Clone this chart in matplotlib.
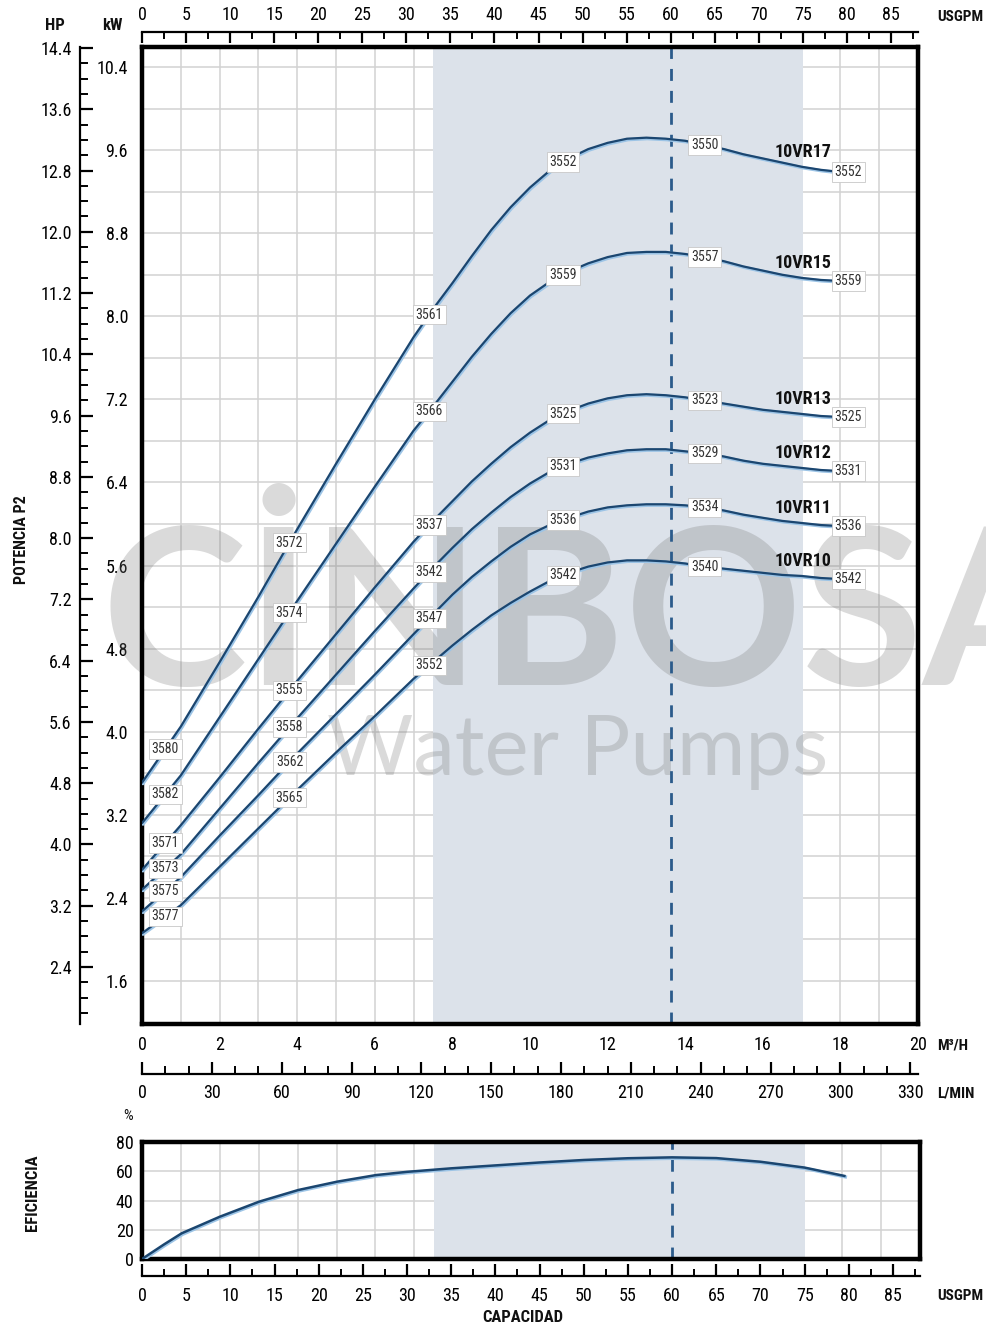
import numpy as np
import matplotlib
matplotlib.use('Agg')
import matplotlib.pyplot as plt
from matplotlib import font_manager
from matplotlib.ticker import MultipleLocator, FixedLocator, NullFormatter, FormatStrFormatter
import matplotlib.patheffects as pe

# pick the narrowest available sans family
_names = {f.name for f in font_manager.fontManager.ttflist}
FONT = 'DejaVu Sans'
for cand in ['Liberation Sans Narrow', 'Roboto Condensed', 'DejaVu Sans Condensed',
             'Open Sans Condensed', 'Liberation Sans', 'Roboto']:
    if cand in _names:
        FONT = cand
        break
CONDENSED = FONT in ('Liberation Sans Narrow', 'Roboto Condensed', 'DejaVu Sans Condensed', 'Open Sans Condensed')
plt.rcParams['font.family'] = [FONT, 'DejaVu Sans']
SC = 1.0 if CONDENSED else 0.88

# ---------------- data ----------------
flow_m3h = [0, 1, 2, 3, 4, 5, 6, 7, 7.5, 8, 8.5, 9, 9.5, 10, 10.5, 11, 11.5, 12, 12.5, 13,
            13.5, 14, 14.5, 15, 15.5, 16, 16.5, 17, 17.5, 18]
p_10vr17 = [3.51, 4.05, 4.67, 5.30, 5.95, 6.58, 7.20, 7.80, 8.07, 8.32, 8.58, 8.83, 9.05, 9.24, 9.40, 9.52,
            9.61, 9.67, 9.71, 9.72, 9.71, 9.69, 9.65, 9.61, 9.56, 9.52, 9.48, 9.44, 9.41, 9.39]
p_10vr15 = [3.12, 3.58, 4.14, 4.70, 5.26, 5.81, 6.36, 6.90, 7.13, 7.37, 7.61, 7.83, 8.03, 8.20, 8.33, 8.43,
            8.51, 8.57, 8.61, 8.62, 8.62, 8.60, 8.57, 8.53, 8.48, 8.44, 8.40, 8.37, 8.35, 8.34]
p_10vr13 = [2.67, 3.10, 3.56, 4.03, 4.49, 4.94, 5.39, 5.83, 6.03, 6.22, 6.41, 6.58, 6.74, 6.88, 7.00, 7.09,
            7.16, 7.21, 7.24, 7.25, 7.24, 7.22, 7.19, 7.16, 7.13, 7.10, 7.08, 7.06, 7.04, 7.03]
p_10vr12 = [2.48, 2.82, 3.26, 3.70, 4.13, 4.55, 4.97, 5.38, 5.58, 5.77, 5.95, 6.11, 6.26, 6.39, 6.50, 6.58,
            6.64, 6.68, 6.71, 6.72, 6.72, 6.70, 6.68, 6.65, 6.61, 6.58, 6.56, 6.54, 6.52, 6.51]
p_10vr11 = [2.27, 2.60, 3.00, 3.39, 3.79, 4.17, 4.55, 4.94, 5.13, 5.32, 5.49, 5.64, 5.78, 5.90, 5.99, 6.06,
            6.12, 6.16, 6.18, 6.19, 6.19, 6.18, 6.16, 6.13, 6.09, 6.06, 6.03, 6.01, 5.99, 5.98]
p_10vr10 = [2.06, 2.33, 2.70, 3.07, 3.44, 3.80, 4.15, 4.51, 4.67, 4.83, 4.98, 5.12, 5.24, 5.35, 5.45, 5.53,
            5.59, 5.63, 5.65, 5.65, 5.64, 5.62, 5.59, 5.57, 5.55, 5.53, 5.51, 5.50, 5.48, 5.47]

models = ['10VR17', '10VR15', '10VR13', '10VR12', '10VR11', '10VR10']
powers = [p_10vr17, p_10vr15, p_10vr13, p_10vr12, p_10vr11, p_10vr10]

code_labels = [
    ['3580', '3572', '3561', '3552', '3550', '3552'],
    ['3582', '3574', '3566', '3559', '3557', '3559'],
    ['3571', '3555', '3537', '3525', '3523', '3525'],
    ['3573', '3558', '3542', '3531', '3529', '3531'],
    ['3575', '3562', '3547', '3536', '3534', '3536'],
    ['3577', '3565', '3552', '3542', '3540', '3542'],
]

eff_gpm = [0, 2.5, 4.5, 8.8, 13.25, 17.7, 22.1, 26.5, 30, 35, 40, 45, 50, 55, 60, 65, 70, 75, 79.5]
eff_pct = [0, 10, 17.6, 28.9, 39.2, 47.2, 52.9, 57.4, 59.6, 62, 64, 66, 67.7, 68.9, 69.5, 69, 66.5, 62.5, 56.8]

band_gpm = [33, 75]
duty_gpm = 60

kw_ticks = [1.6, 2.4, 3.2, 4.0, 4.8, 5.6, 6.4, 7.2, 8.0, 8.8, 9.6, 10.4]
hp_ticks = [2.4, 3.2, 4.0, 4.8, 5.6, 6.4, 7.2, 8.0, 8.8, 9.6, 10.4, 11.2, 12.0, 12.8, 13.6, 14.4]

# ---------------- conversions ----------------
GPM_PER_M3H = 4.402868
def m3h_to_gpm(q): return np.asarray(q) * GPM_PER_M3H
def gpm_to_m3h(g): return np.asarray(g) / GPM_PER_M3H
def m3h_to_lmin(q): return np.asarray(q) * 1000.0 / 60.0
def lmin_to_m3h(l): return np.asarray(l) * 60.0 / 1000.0

# ---------------- layout ----------------
W, H = 987, 1330
fig = plt.figure(figsize=(W / 100, H / 100), dpi=100)
def box(l, t, r, b):
    return [l / W, 1 - b / H, (r - l) / W, (b - t) / H]
def fx(x): return x / W
def fy(y): return 1 - y / H

ax = fig.add_axes(box(142, 47, 918, 1024))
axe = fig.add_axes(box(142, 1142, 920, 1259))

CURVE = '#1b4670'
HALO = '#9cc4e6'
SHADE = '#dce2ea'
GRID = '#d2d2d2'
DASH = '#2b5b8b'
TICKFS = 13 * SC

# ---------------- main panel ----------------
ax.set_xlim(0, 20)
ax.set_ylim(1.186, 10.593)
ax.set_axisbelow(True)
ax.xaxis.set_major_locator(MultipleLocator(2))
ax.xaxis.set_minor_locator(MultipleLocator(1))
ax.yaxis.set_major_locator(FixedLocator(kw_ticks))
ax.yaxis.set_minor_locator(MultipleLocator(0.4))
ax.yaxis.set_major_formatter(FormatStrFormatter('%.1f'))
ax.tick_params(which='both', length=0, labelsize=TICKFS)
ax.tick_params(axis='x', pad=9)
ax.tick_params(axis='y', pad=10)
ax.grid(which='both', color=GRID, lw=1.1)
for s in ax.spines.values():
    s.set_linewidth(3.2)
    s.set_color('black')

ax.axvspan(gpm_to_m3h(band_gpm[0]), gpm_to_m3h(band_gpm[1]), color=SHADE, zorder=0.8, lw=0)
ax.axvline(gpm_to_m3h(duty_gpm), color=DASH, lw=2, ls=(0, (4.3, 3.6)), zorder=2.5)

# watermark (between the shading and the curves)
ax.text(fx(101), fy(620), 'CİNBOSA', transform=fig.transFigure, fontsize=158, fontweight='bold',
        family=['Lato', 'DejaVu Sans'], color='#7a7a7a', alpha=0.28, ha='left', va='center',
        zorder=2, clip_on=False)
ax.text(fx(578), fy(752), 'Water Pumps', transform=fig.transFigure, fontsize=60,
        family=['Lato', 'DejaVu Sans'], color='#7a7a7a', alpha=0.28, ha='center', va='center',
        zorder=2, clip_on=False)

halo = [pe.Stroke(offset=(0.7, -0.7), linewidth=2.4, foreground=HALO), pe.Normal()]
label_q = [0.6, 3.8, 7.4, 10.85, 14.5, 18.2]
for name, p, codes in zip(models, powers, code_labels):
    ax.plot(flow_m3h, p, color=CURVE, lw=1.6, zorder=3, path_effects=halo,
            solid_capstyle='round', solid_joinstyle='round')
    for qq, c in zip(label_q, codes):
        yy = np.interp(qq, flow_m3h, p)
        ax.text(qq, yy, c, ha='center', va='center', fontsize=10 * SC, color='#333333', zorder=5,
                bbox=dict(boxstyle='square,pad=0.2', fc='white', ec='#c8c8c8', lw=0.6))
    ax.annotate(name, (17.03, np.interp(17.03, flow_m3h, p)), xytext=(0, 15), textcoords='offset pixels',
                ha='center', va='center', fontsize=13 * SC, fontweight='bold', color='#111111', zorder=5)

# HP axis
axh = ax.twinx()
axh.set_ylim(1.656, 14.413)
axh.yaxis.tick_left()
axh.yaxis.set_label_position('left')
for k in ['top', 'right', 'bottom']:
    axh.spines[k].set_visible(False)
axh.spines['left'].set_position(('axes', -62 / 776))
axh.spines['left'].set_linewidth(1.6)
axh.yaxis.set_major_locator(FixedLocator(hp_ticks))
axh.yaxis.set_minor_locator(MultipleLocator(0.2))
axh.yaxis.set_major_formatter(FormatStrFormatter('%.1f'))
axh.tick_params(which='major', direction='in', length=9, width=1.6, labelsize=TICKFS, pad=6)
axh.tick_params(which='minor', direction='in', length=5.5, width=1.4)

# top USGPM axis
sec_top = ax.secondary_xaxis(1 + 15 / 977, functions=(m3h_to_gpm, gpm_to_m3h))
sec_top.xaxis.set_major_locator(MultipleLocator(5))
sec_top.xaxis.set_minor_locator(MultipleLocator(2.5))
sec_top.tick_params(which='major', direction='in', length=8, width=1.6, labelsize=TICKFS, pad=6)
sec_top.tick_params(which='minor', direction='in', length=5, width=1.4)
sec_top.spines['top'].set_linewidth(1.6)

# L/min axis
sec_l = ax.secondary_xaxis(-50 / 977, functions=(m3h_to_lmin, lmin_to_m3h))
sec_l.xaxis.set_major_locator(MultipleLocator(30))
sec_l.xaxis.set_minor_locator(MultipleLocator(10))
sec_l.tick_params(which='major', direction='in', length=9, width=1.6, labelsize=TICKFS, pad=7)
sec_l.tick_params(which='minor', direction='in', length=6, width=1.4)
sec_l.spines['bottom'].set_linewidth(1.6)

# ---------------- efficiency panel ----------------
axe.set_xlim(0, 20)
axe.set_ylim(0, 80)
axe.set_axisbelow(True)
axe.xaxis.set_major_locator(MultipleLocator(1))
axe.xaxis.set_major_formatter(NullFormatter())
axe.yaxis.set_major_locator(MultipleLocator(20))
axe.tick_params(which='both', length=0, labelsize=TICKFS)
axe.tick_params(axis='y', pad=6)
axe.grid(which='both', color=GRID, lw=1.1)
for s in axe.spines.values():
    s.set_linewidth(3.2)
    s.set_color('black')
axe.axvspan(gpm_to_m3h(band_gpm[0]), gpm_to_m3h(band_gpm[1]), color=SHADE, zorder=0.8, lw=0)
axe.axvline(gpm_to_m3h(duty_gpm), color=DASH, lw=2, ls=(0, (4.3, 3.6)), zorder=2.5)
axe.plot(gpm_to_m3h(eff_gpm), eff_pct, color=CURVE, lw=1.8, zorder=3, path_effects=halo,
         solid_joinstyle='round')

sec_e = axe.secondary_xaxis(-17 / 117, functions=(m3h_to_gpm, gpm_to_m3h))
sec_e.xaxis.set_major_locator(MultipleLocator(5))
sec_e.xaxis.set_minor_locator(MultipleLocator(2.5))
sec_e.tick_params(which='major', direction='in', length=9, width=1.6, labelsize=TICKFS, pad=8)
sec_e.tick_params(which='minor', direction='in', length=5, width=1.4)
sec_e.spines['bottom'].set_linewidth(1.6)

# ---------------- captions ----------------
def cap(x, y, s, size=12, bold=True, rot=0, ha='center'):
    fig.text(fx(x), fy(y), s, fontsize=size * SC, fontweight='bold' if bold else 'normal',
             ha=ha, va='center', rotation=rot, color='#111111')

cap(55, 25, 'HP')
cap(112, 25, 'kW')
cap(937, 17, 'USGPM', size=11, ha='left')
cap(937, 1046, 'M³/H', size=11, ha='left')
cap(937, 1093, 'L/MIN', size=11, ha='left')
cap(22, 540, 'POTENCIA P2', size=11.5, rot=90)
cap(32, 1193, 'EFICIENCIA', size=12, rot=90)
cap(937, 1296, 'USGPM', size=11, ha='left')
cap(523, 1318, 'CAPACIDAD')
cap(128, 1116, '%', size=11, bold=False)

fig.savefig('out.png', dpi=100)
